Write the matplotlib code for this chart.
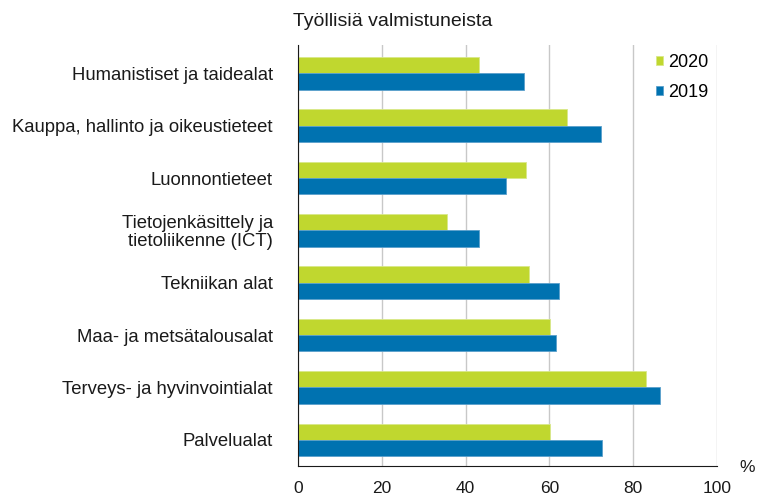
import matplotlib
matplotlib.use('Agg')
import matplotlib.pyplot as plt
import numpy as np

plt.rcParams['font.family'] = ['Liberation Sans', 'DejaVu Sans']

categories = ['Humanistiset ja taidealat',
              'Kauppa, hallinto ja oikeustieteet',
              'Luonnontieteet',
              'Tietojenkäsittely ja\ntietoliikenne (ICT)',
              'Tekniikan alat',
              'Maa- ja metsätalousalat',
              'Terveys- ja hyvinvointialat',
              'Palvelualat']
v2020 = [43.2, 64.2, 54.3, 35.6, 55.1, 60.1, 83.0, 60.1]
v2019 = [53.9, 72.3, 49.7, 43.2, 62.3, 61.6, 86.4, 72.6]
xticks = [0, 20, 40, 60, 80, 100]

green = '#c0d72f'
blue = '#0072b0'
txt = '#1a1a1a'

fig = plt.figure(figsize=(7.57, 4.96), dpi=100)
ax = fig.add_axes([298/757, 1-466/496, (717-298)/757, (466-45)/496])

y = np.arange(len(categories))
h = 0.31
ax.barh(y - h/2, v2020, height=h, color=green, edgecolor='#d8e88a', linewidth=0.6, label='2020', zorder=3)
ax.barh(y + h/2, v2019, height=h, color=blue, edgecolor='#5aa0cc', linewidth=0.6, label='2019', zorder=3)

ax.set_ylim(len(categories) - 0.5, -0.54)
ax.set_xlim(0, 100)
ax.set_yticks(y)
ax.set_yticklabels(categories, fontsize=13.3, color=txt, linespacing=1.05)
ax.set_xticks(xticks)
ax.set_xticklabels([str(t) for t in xticks], fontsize=12.5, color=txt)
ax.tick_params(axis='y', length=0, pad=18)
ax.tick_params(axis='x', length=0, pad=11)

ax.grid(axis='x', color='#c8c8c8', linewidth=1, zorder=0)
for s in ['top', 'right']:
    ax.spines[s].set_visible(False)
ax.spines['left'].set_color(txt)
ax.spines['bottom'].set_color(txt)
ax.spines['left'].set_zorder(4)

leg = ax.legend(loc='upper right', bbox_to_anchor=(1.0, 1.0), frameon=False,
                fontsize=13, handlelength=0.42, handleheight=0.42,
                handletextpad=0.25, labelspacing=0.7, borderaxespad=0.1)

fig.text(293/757, 1-22/496, 'Työllisiä valmistuneista', fontsize=14,
         color=txt, ha='left', va='center')
fig.text(747/757, 1-468/496, '%', fontsize=12.5, color=txt,
         ha='center', va='center')

fig.savefig('out.png', dpi=100)
